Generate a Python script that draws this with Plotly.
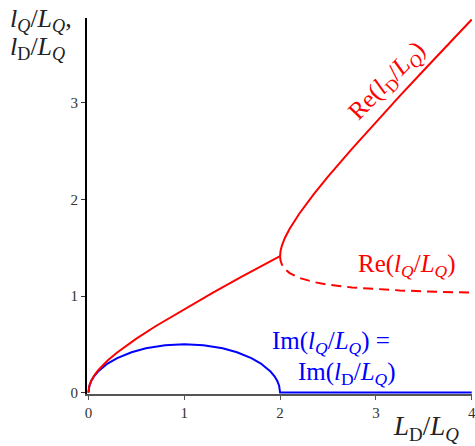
import plotly.graph_objs as go

# values (x = L_D/L_Q)
x_low = [0, 0.01, 0.03, 0.06, 0.1, 0.2, 0.3, 0.5, 0.7, 1.0, 1.3, 1.6, 1.8, 2.0]
re_low = [0, 0.071, 0.123, 0.176, 0.229, 0.332, 0.415, 0.559, 0.687, 0.866, 1.036, 1.2, 1.308, 1.414]

x_im = [0, 0.01, 0.03, 0.06, 0.1, 0.2, 0.3, 0.45, 0.6, 0.8, 1.0, 1.2, 1.4, 1.55, 1.7, 1.8, 1.9, 1.94, 1.97, 1.99, 2.0, 4.0]
im_val = [0, 0.071, 0.122, 0.171, 0.218, 0.3, 0.357, 0.418, 0.458, 0.49, 0.5, 0.49, 0.458, 0.418, 0.357, 0.3, 0.218, 0.171, 0.122, 0.071, 0, 0]

x_high = [2.0, 2.005, 2.02, 2.05, 2.1, 2.2, 2.35, 2.5, 2.75, 3.0, 3.25, 3.5, 3.75, 4.0]
re_d_high = [1.414, 1.467, 1.525, 1.601, 1.696, 1.852, 2.052, 2.236, 2.525, 2.803, 3.073, 3.339, 3.603, 3.864]
re_q_high = [1.414, 1.367, 1.324, 1.281, 1.238, 1.188, 1.145, 1.118, 1.089, 1.071, 1.058, 1.048, 1.041, 1.035]

xticks = [0, 1, 2, 3, 4]
yticks = [0, 1, 2, 3]

RED = '#ff0000'
BLUE = '#0000ff'
SERIF = 'Liberation Serif'

fig = go.Figure()
fig.add_trace(go.Scatter(x=x_im, y=im_val, mode='lines', line=dict(color=BLUE, width=2)))
fig.add_trace(go.Scatter(x=x_low, y=re_low, mode='lines', line=dict(color=RED, width=2)))
fig.add_trace(go.Scatter(x=x_high, y=re_d_high, mode='lines', line=dict(color=RED, width=2)))
fig.add_trace(go.Scatter(x=x_high, y=re_q_high, mode='lines', line=dict(color=RED, width=2, dash='10px,6px')))

Q = '<i>Q</i>'
def frac(top, sub_top):
    return f'<i>{top}</i><sub>{sub_top}</sub>/<i>L</i><sub>{Q}</sub>'

labels = [
    # text, x, y, ref, color, size, angle, xanchor
    ('Re(' + frac('l', 'D') + ')', 3.125, 3.22, 'data', RED, 25, -46, 'center'),
    ('Re(' + frac('l', Q) + ')', 3.32, 1.32, 'data', RED, 25, 0, 'center'),
    ('Im(' + frac('l', Q) + ') =', 2.53, 0.52, 'data', BLUE, 25, 0, 'center'),
    ('Im(' + frac('l', 'D') + ')', 2.70, 0.20, 'data', BLUE, 25, 0, 'center'),
    (frac('L', 'D'), 0.8805, -0.09, 'paper', '#222', 27, 0, 'center'),
    (frac('l', Q) + ',', -0.205, 0.996, 'paper', '#222', 26, 0, 'left'),
    (frac('l', 'D'), -0.205, 0.920, 'paper', '#222', 26, 0, 'left'),
]
for text, x, y, ref, color, size, angle, xa in labels:
    xr, yr = ('x', 'y') if ref == 'data' else ('paper', 'paper')
    fig.add_annotation(x=x, y=y, xref=xr, yref=yr, text=text, showarrow=False,
                       textangle=angle, xanchor=xa, yanchor='middle',
                       font=dict(family=SERIF, size=size, color=color))

fig.update_layout(
    width=475, height=446,
    margin=dict(l=87, r=3, t=18, b=52),
    plot_bgcolor='white', paper_bgcolor='white',
    showlegend=False,
)
fig.update_xaxes(range=[-0.015, 4.003], tickvals=xticks, ticktext=[str(v) for v in xticks],
                 showgrid=False, zeroline=False, showline=True, linecolor='#555', linewidth=2,
                 ticks='outside', ticklen=4, tickcolor='#555', layer='below traces',
                 ticklabeloverflow='allow', automargin=False,
                 tickfont=dict(family=SERIF, size=15, color='#333'))
fig.update_yaxes(range=[-0.015, 3.88], tickvals=yticks, ticktext=[str(v) for v in yticks],
                 showgrid=False, zeroline=False, showline=True, linecolor='black', linewidth=2,
                 ticks='outside', ticklen=4, tickcolor='#333', layer='below traces',
                 automargin=False,
                 tickfont=dict(family=SERIF, size=15, color='#333'))

# the page's default body margin would shift the chart by 8px
fig.write_html("out.html", config={'displayModeBar': False},
               post_script="document.body.style.margin='0';")
